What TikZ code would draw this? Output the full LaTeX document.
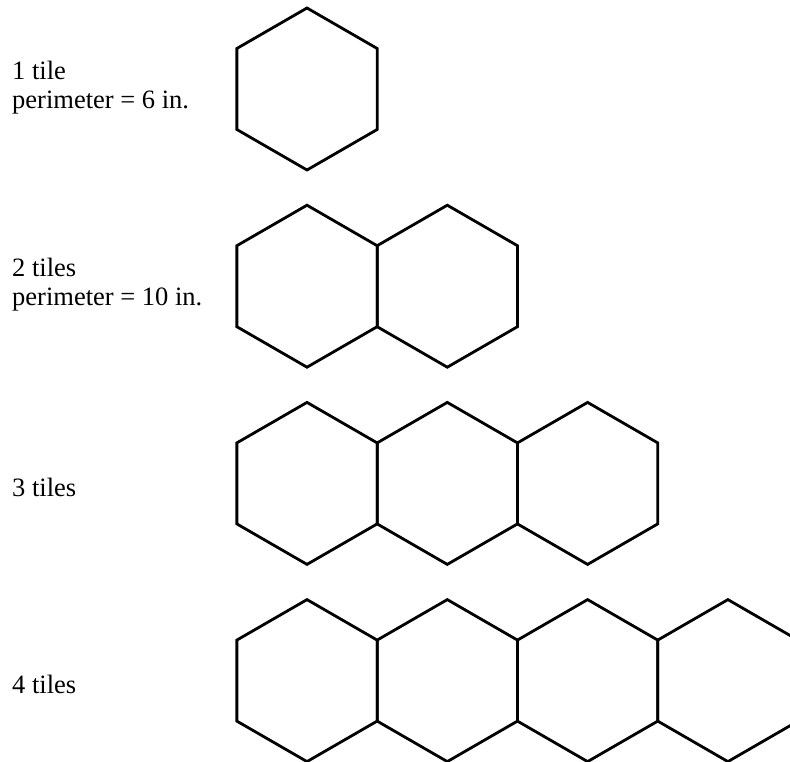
\documentclass[tikz,border=0pt]{standalone}
\usepackage{fontspec}
\setmainfont{Liberation Serif}
\usetikzlibrary{shapes.geometric}
\begin{document}
\begin{tikzpicture}[x=1pt, y=-1pt,
        tile/.style={regular polygon, regular polygon sides=6, shape border rotate=30, minimum size=162pt, inner sep=0pt, outer sep=0pt, draw, line width=2.8pt},
        caption/.style={anchor=west, align=left, inner sep=0pt, font=\fontsize{26.5}{29}\selectfont}
    ]
    \useasboundingbox (0,0) rectangle (790,762);
    \clip (0,0) rectangle (790,762);

    % Beschriftungen
    \node[caption] (lbl1) at (12, 88) {1 tile\\perimeter = 6 in.};
    \node[caption] (lbl2) at (12, 285) {2 tiles\\perimeter = 10 in.};
    \node[caption] (lbl3) at (12, 487) {3 tiles};
    \node[caption] (lbl4) at (12, 684) {4 tiles};

    % Sechseckkacheln, Reihe fuer Reihe
    \foreach \n in {1,...,4} {
        \foreach \c in {1,...,\n} {
            \node[tile] (h\n-\c) at ({307 + 140.3*(\c-1)}, {89 + 197.2*(\n-1)}) {};
        }
    }
\end{tikzpicture}
\end{document}
